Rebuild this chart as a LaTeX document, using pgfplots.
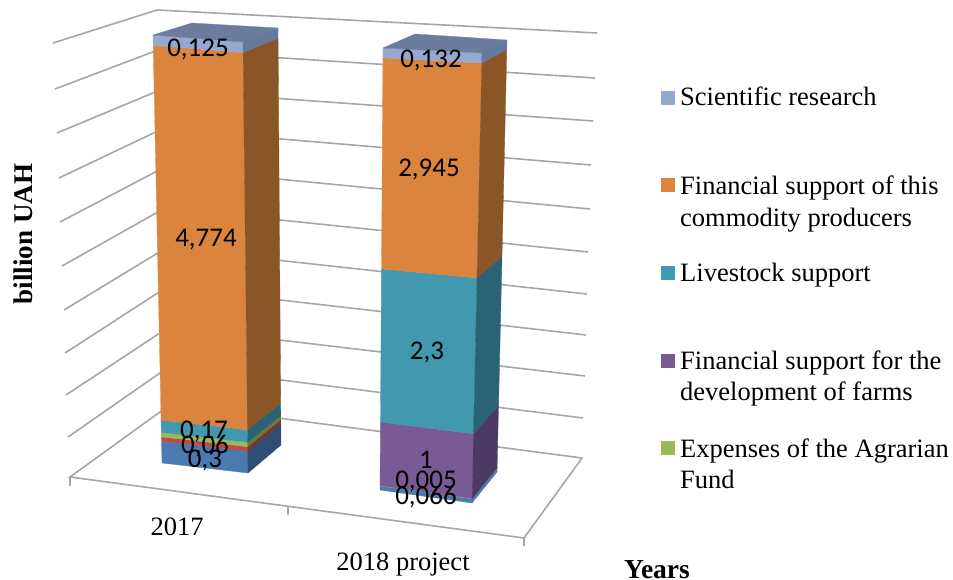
\documentclass[border=0pt]{standalone}
\usepackage{fontspec}
\usepackage{pgfplots}
\pgfplotsset{compat=1.18}
\setmainfont{Liberation Serif}
\newfontfamily\carlito{Carlito}
\definecolor{cBlue}{HTML}{4A7AB0}\definecolor{cBlueS}{HTML}{2E4E74}
\definecolor{cRed}{HTML}{BE4B48}\definecolor{cRedS}{HTML}{7F3230}
\definecolor{cGreen}{HTML}{98B954}\definecolor{cGreenS}{HTML}{647C3A}
\definecolor{cTeal}{HTML}{4198AF}\definecolor{cTealS}{HTML}{2A6375}
\definecolor{cPurple}{HTML}{7A5A94}\definecolor{cPurpleS}{HTML}{4C3A62}
\definecolor{cOrange}{HTML}{DB843D}\definecolor{cOrangeS}{HTML}{8A5527}
\definecolor{cLight}{HTML}{95A9D0}\definecolor{cLightS}{HTML}{64799C}\definecolor{cLightT}{HTML}{6C7C9E}
\definecolor{cGrid}{HTML}{A6A6A6}
% perspective of the value axis
\def\persp{0.0135}
\newcommand\hh[1]{((#1)/(1-\persp*(#1)))}
\newcommand\setcorner[5]{\expandafter\def\csname x#1b\endcsname{#2}\expandafter\def\csname y#1b\endcsname{#3}\expandafter\def\csname x#1t\endcsname{#4}\expandafter\def\csname y#1t\endcsname{#5}}
\newcommand\mk[3]{%
 \pgfmathsetmacro\tx{\csname x#2b\endcsname+(\csname x#2t\endcsname-\csname x#2b\endcsname)*#3}%
 \pgfmathsetmacro\ty{\csname y#2b\endcsname+(\csname y#2t\endcsname-\csname y#2b\endcsname)*#3}%
 \expandafter\xdef\csname pt#1\endcsname{(\tx,\ty)}}
\newcommand\startbar[1]{\gdef\total{#1}\gdef\cum{0}}
% one stacked segment: value, front colour, side colour
\newcommand\seg[3]{%
 \pgfmathsetmacro\fa{\hh{\cum}/\hh{\total}}%
 \pgfmathsetmacro\newcum{\cum+#1}\xdef\cum{\newcum}%
 \pgfmathsetmacro\fb{\hh{\cum}/\hh{\total}}%
 \mk{A}{FL}{\fa}\mk{B}{FR}{\fa}\mk{C}{FR}{\fb}\mk{D}{FL}{\fb}\mk{E}{BR}{\fa}\mk{F}{BR}{\fb}%
 \edef\cmd{\noexpand\addplot[fill=#2,draw=#2,line width=.3pt,forget plot] coordinates {\ptA \ptB \ptC \ptD} -- cycle;
 \noexpand\addplot[fill=#3,draw=#3,line width=.3pt,forget plot] coordinates {\ptB \ptE \ptF \ptC} -- cycle;}%
 \cmd}
\newcommand\topface[1]{%
 \mk{A}{FL}{1}\mk{B}{FR}{1}\mk{E}{BR}{1}\mk{F}{BL}{1}%
 \edef\cmd{\noexpand\addplot[fill=#1,draw=#1,line width=.3pt,forget plot] coordinates {\ptA \ptB \ptE \ptF} -- cycle;}\cmd}
\begin{document}
\begin{tikzpicture}
\begin{axis}[scale only axis,width=953pt,height=580pt,xmin=0,xmax=953,ymin=0,ymax=580,y dir=reverse,hide axis,clip=false]
\path (axis cs:0,0) rectangle (axis cs:953,580);
% floor
\addplot[cGrid,line width=1.6pt,forget plot] coordinates {(171,404)(70,477)(524,538)(582,458)(171,404)};
\addplot[cGrid,line width=1.6pt,forget plot] coordinates {(70,477)(70,486)};
\addplot[cGrid,line width=1.6pt,forget plot] coordinates {(288,507)(288,515)};
\addplot[cGrid,line width=1.6pt,forget plot] coordinates {(524,538)(524,546)};
% grid lines
\addplot[cGrid,line width=1.6pt,forget plot] coordinates {(68,437)(170,366)(583,418)};
\addplot[cGrid,line width=1.6pt,forget plot] coordinates {(66,395)(169,327)(585,376)};
\addplot[cGrid,line width=1.6pt,forget plot] coordinates {(65,353)(167,287)(586,335)};
\addplot[cGrid,line width=1.6pt,forget plot] coordinates {(64,310)(166,248)(587,294)};
\addplot[cGrid,line width=1.6pt,forget plot] coordinates {(62,266)(165,208)(588,252)};
\addplot[cGrid,line width=1.6pt,forget plot] coordinates {(60,222)(163,168)(590,209)};
\addplot[cGrid,line width=1.6pt,forget plot] coordinates {(59,178)(162,129)(591,165)};
\addplot[cGrid,line width=1.6pt,forget plot] coordinates {(57,133)(160,90)(593,121)};
\addplot[cGrid,line width=1.6pt,forget plot] coordinates {(55,89)(158,50)(595,78)};
\addplot[cGrid,line width=1.6pt,forget plot] coordinates {(53,43)(157,10)(597,33)};
% bar 2017
\setcorner{FL}{162}{463}{153}{35}\setcorner{FR}{248}{473}{243}{42}
\setcorner{BR}{281}{445}{278}{28}\setcorner{BL}{195}{435}{192}{23}
\startbar{5.489}
\seg{0.3}{cBlue}{cBlueS}
\seg{0.06}{cRed}{cRedS}
\seg{0.06}{cGreen}{cGreenS}
\seg{0.17}{cTeal}{cTealS}
\seg{4.774}{cOrange}{cOrangeS}
\seg{0.125}{cLight}{cLightS}
\topface{cLightT}
% bar 2018 project
\setcorner{FL}{380}{490}{383}{48}\setcorner{FR}{472}{503}{482}{53}
\setcorner{BR}{497}{472}{507}{40}\setcorner{BL}{405}{460}{415}{34}
\startbar{6.448}
\seg{0.066}{cBlue}{cBlue}
\seg{0.005}{cGreen}{cGreenS}
\seg{1}{cPurple}{cPurpleS}
\seg{2.3}{cTeal}{cTealS}
\seg{2.945}{cOrange}{cOrangeS}
\seg{0.132}{cLight}{cLightS}
\topface{cLightT}
% data labels
\newcommand\dl[3]{\node[anchor=base,inner sep=0pt,font=\carlito\fontsize{27}{27}\selectfont] at (axis cs:#1,#2) {#3};}
\dl{198}{57}{0,125}
\dl{206}{247}{4,774}
\dl{204}{438}{0,17}
\dl{205}{453}{0,06}
\dl{205}{467}{0,3}
\dl{431}{68}{0,132}
\dl{429}{177}{2,945}
\dl{427}{359}{2,3}
\dl{426}{468}{1}
\dl{426}{488}{0,005}
\dl{426}{504}{0,066}
% category labels
\newcommand\tl[4][]{\node[anchor=base #1,inner sep=0pt,font=\fontsize{26.5}{26.5}\selectfont] at (axis cs:#2,#3) {#4};}
\tl{177}{535}{2017}
\tl{403}{570}{2018 project}
\node[anchor=base,inner sep=0pt,font=\bfseries\fontsize{27.5}{27.5}\selectfont] at (axis cs:657,578) {Years};
\node[anchor=base,rotate=90,inner sep=0pt,font=\bfseries\fontsize{27}{27}\selectfont] at (axis cs:32,234) {billion UAH};
% legend
\fill[cLight] (axis cs:661,91) rectangle (axis cs:675,105);
\fill[cOrange] (axis cs:661,178) rectangle (axis cs:675,192);
\fill[cTeal] (axis cs:661,266) rectangle (axis cs:675,280);
\fill[cPurple] (axis cs:661,354) rectangle (axis cs:675,368);
\fill[cGreen] (axis cs:661,441) rectangle (axis cs:675,455);
\tl[west]{680}{106}{Scientific research}
\tl[west]{680}{195}{Financial support of this}
\tl[west]{680}{226}{commodity producers}
\tl[west]{680}{281}{Livestock support}
\tl[west]{680}{369}{Financial support for the}
\tl[west]{680}{400}{development of farms}
\tl[west]{680}{457}{Expenses of the Agrarian}
\tl[west]{680}{488}{Fund}
\end{axis}
\end{tikzpicture}
\end{document}
